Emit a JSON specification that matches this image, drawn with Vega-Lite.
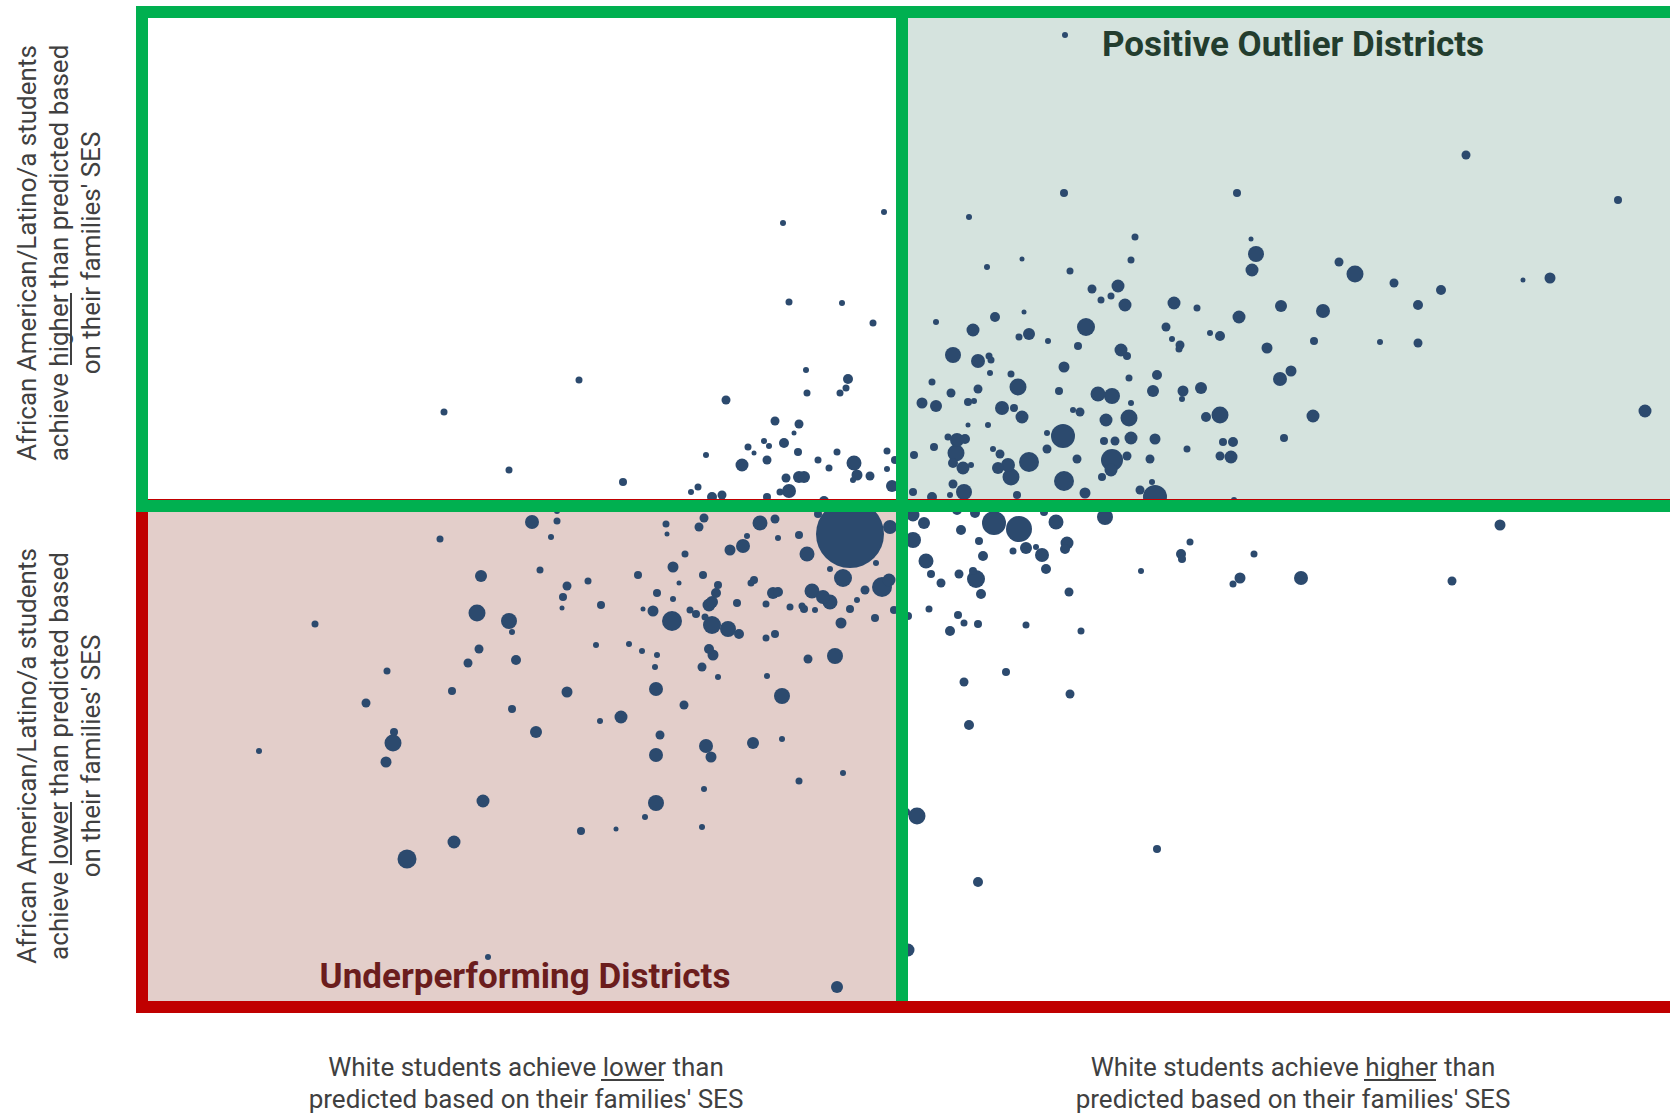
{
  "$schema": "https://vega.github.io/schema/vega-lite/v6.json",
  "width": 1520,
  "height": 995,
  "autosize": "none",
  "padding": {"left": 142, "top": 12, "right": 8, "bottom": 111},
  "background": "white",
  "config": {"view": {"stroke": null}},
  "datasets": {
    "pts": [
      {"w":-458,"b":94,"n":490},{"w":-323,"b":126,"n":490},{"w":-393,"b":36,"n":490},{"w":-279,"b":24,"n":640},
      {"w":-370,"b":-16,"n":1960},{"w":-345,"b":-15,"n":490},{"w":-345,"b":-5,"n":360},{"w":-351,"b":-31,"n":360},
      {"w":-462,"b":-33,"n":490},{"w":-421,"b":-70,"n":1440},{"w":-362,"b":-64,"n":490},{"w":-335,"b":-80,"n":810},
      {"w":-339,"b":-91,"n":640},{"w":-340,"b":-102,"n":250},{"w":-314,"b":-75,"n":490},{"w":-301,"b":-99,"n":640},
      {"w":-264,"b":-69,"n":640},{"w":-259,"b":-103,"n":250},{"w":-425,"b":-107,"n":2890},{"w":-393,"b":-115,"n":2560},
      {"w":-390,"b":-126,"n":360},{"w":-587,"b":-118,"n":490},{"w":-423,"b":-143,"n":810},{"w":-434,"b":-157,"n":810},
      {"w":-386,"b":-154,"n":1000},{"w":-306,"b":-139,"n":360},{"w":-273,"b":-138,"n":360},{"w":-260,"b":-145,"n":360},
      {"w":-515,"b":-165,"n":490},{"w":-450,"b":-185,"n":640},{"w":-335,"b":-186,"n":1210},{"w":-536,"b":-197,"n":810},
      {"w":-390,"b":-203,"n":640},{"w":-302,"b":-215,"n":360},{"w":-281,"b":-211,"n":1690},{"w":-366,"b":-226,"n":1440},
      {"w":-508,"b":-226,"n":640},{"w":-509,"b":-237,"n":2890},{"w":-516,"b":-256,"n":1210},{"w":-643,"b":-245,"n":360},
      {"w":-419,"b":-295,"n":1690},{"w":-257,"b":-311,"n":360},{"w":-321,"b":-325,"n":640},{"w":-286,"b":-323,"n":250},
      {"w":-448,"b":-336,"n":1690},{"w":-495,"b":-353,"n":3610},{"w":-414,"b":-451,"n":360},
      {"w":163,"b":471,"n":360},{"w":-119,"b":283,"n":360},{"w":-18,"b":294,"n":360},{"w":162,"b":313,"n":640},
      {"w":67,"b":289,"n":360},{"w":233,"b":269,"n":490},{"w":229,"b":246,"n":490},{"w":85,"b":239,"n":360},
      {"w":120,"b":247,"n":250},{"w":168,"b":235,"n":490},{"w":190,"b":217,"n":810},{"w":216,"b":220,"n":1690},
      {"w":199,"b":206,"n":490},{"w":209,"b":210,"n":490},{"w":223,"b":201,"n":1690},{"w":-113,"b":204,"n":490},
      {"w":-60,"b":203,"n":360},{"w":-29,"b":183,"n":490},{"w":34,"b":184,"n":360},{"w":93,"b":189,"n":1000},
      {"w":122,"b":194,"n":250},{"w":71,"b":176,"n":1690},{"w":184,"b":179,"n":3240},{"w":127,"b":172,"n":1440},
      {"w":117,"b":169,"n":490},{"w":146,"b":165,"n":360},{"w":176,"b":160,"n":640},{"w":51,"b":151,"n":2560},
      {"w":76,"b":145,"n":1960},{"w":87,"b":150,"n":490},{"w":89,"b":146,"n":490},{"w":219,"b":156,"n":1690},
      {"w":225,"b":150,"n":640},{"w":162,"b":139,"n":1210},{"w":88,"b":133,"n":360},{"w":109,"b":132,"n":490},
      {"w":-96,"b":136,"n":360},{"w":-54,"b":127,"n":1000},{"w":227,"b":128,"n":490},{"w":30,"b":124,"n":490},
      {"w":564,"b":351,"n":810},{"w":716,"b":306,"n":640},{"w":335,"b":313,"n":640},{"w":349,"b":267,"n":250},
      {"w":354,"b":252,"n":2560},{"w":350,"b":236,"n":1690},{"w":437,"b":244,"n":810},{"w":453,"b":232,"n":2890},
      {"w":492,"b":223,"n":810},{"w":539,"b":216,"n":1000},{"w":621,"b":226,"n":250},{"w":648,"b":228,"n":1210},
      {"w":516,"b":201,"n":1000},{"w":272,"b":203,"n":1690},{"w":295,"b":198,"n":490},{"w":379,"b":200,"n":1440},
      {"w":421,"b":195,"n":1960},{"w":337,"b":189,"n":1690},{"w":264,"b":179,"n":810},{"w":308,"b":173,"n":360},
      {"w":318,"b":170,"n":1000},{"w":270,"b":167,"n":360},{"w":278,"b":161,"n":810},{"w":277,"b":157,"n":490},
      {"w":365,"b":158,"n":1210},{"w":412,"b":165,"n":640},{"w":478,"b":164,"n":360},{"w":516,"b":163,"n":810},
      {"w":255,"b":131,"n":1000},{"w":251,"b":115,"n":1440},{"w":281,"b":115,"n":1210},{"w":280,"b":107,"n":360},
      {"w":299,"b":118,"n":1440},{"w":389,"b":135,"n":1210},{"w":378,"b":127,"n":1960},{"w":318,"b":91,"n":2890},
      {"w":304,"b":89,"n":1000},{"w":411,"b":90,"n":1690},{"w":743,"b":95,"n":1690},{"w":253,"b":67,"n":1210},
      {"w":285,"b":57,"n":490},{"w":321,"b":64,"n":640},{"w":331,"b":64,"n":1000},{"w":382,"b":68,"n":640},
      {"w":318,"b":50,"n":810},{"w":329,"b":49,"n":1690},{"w":250,"b":24,"n":360},{"w":253,"b":9,"n":5760},
      {"w":332,"b":6,"n":360},
      {"w":598,"b":-19,"n":1210},{"w":288,"b":-36,"n":490},{"w":279,"b":-48,"n":1000},{"w":280,"b":-53,"n":640},
      {"w":352,"b":-48,"n":490},{"w":338,"b":-72,"n":1210},{"w":331,"b":-78,"n":490},{"w":399,"b":-72,"n":1960},
      {"w":550,"b":-75,"n":810},{"w":255,"b":-343,"n":640},
      {"w":-218,"b":-199,"n":810},{"w":-120,"b":-190,"n":2560},{"w":-242,"b":-229,"n":810},{"w":-196,"b":-240,"n":1960},
      {"w":-191,"b":-251,"n":1210},{"w":-246,"b":-249,"n":1960},{"w":-149,"b":-237,"n":1440},{"w":-120,"b":-233,"n":360},
      {"w":-103,"b":-275,"n":490},{"w":-59,"b":-267,"n":360},{"w":-198,"b":-283,"n":360},{"w":-246,"b":-297,"n":2560},
      {"w":-200,"b":-321,"n":360},{"w":-65,"b":-481,"n":1440},{"w":168,"b":-188,"n":810},{"w":67,"b":-219,"n":1000},
      {"w":15,"b":-310,"n":2890},{"w":4,"b":-306,"n":640},{"w":76,"b":-376,"n":1000},{"w":6,"b":-444,"n":1690},
      {"w":-176,"b":106,"n":810},{"w":-95,"b":113,"n":490},{"w":-62,"b":113,"n":490},{"w":-56,"b":118,"n":490},
      {"w":-127,"b":85,"n":810},{"w":-103,"b":82,"n":810},{"w":-108,"b":73,"n":250},{"w":-118,"b":63,"n":1000},
      {"w":-138,"b":65,"n":360},{"w":-133,"b":60,"n":360},{"w":-154,"b":59,"n":490},{"w":-148,"b":53,"n":250},
      {"w":-196,"b":51,"n":360},{"w":-160,"b":41,"n":1690},{"w":-135,"b":46,"n":810},{"w":-104,"b":54,"n":640},
      {"w":-84,"b":46,"n":490},{"w":-65,"b":54,"n":490},{"w":-48,"b":43,"n":2250},{"w":-73,"b":38,"n":490},
      {"w":-45,"b":31,"n":1210},{"w":-49,"b":26,"n":360},{"w":-32,"b":30,"n":810},{"w":-15,"b":55,"n":490},
      {"w":-15,"b":37,"n":360},{"w":-10,"b":20,"n":1440},{"w":-7,"b":46,"n":640},{"w":-116,"b":28,"n":810},
      {"w":-103,"b":29,"n":1440},{"w":-98,"b":29,"n":1440},{"w":-113,"b":15,"n":1960},{"w":-211,"b":14,"n":360},
      {"w":-204,"b":19,"n":490},{"w":-190,"b":9,"n":1000},{"w":-180,"b":11,"n":810},{"w":-135,"b":9,"n":640},
      {"w":-122,"b":14,"n":490},{"w":-78,"b":5,"n":1000},
      {"w":49,"b":113,"n":810},{"w":76,"b":117,"n":810},{"w":116,"b":119,"n":2890},{"w":157,"b":115,"n":640},
      {"w":196,"b":112,"n":2250},{"w":210,"b":110,"n":2560},{"w":229,"b":103,"n":360},{"w":20,"b":103,"n":1210},
      {"w":34,"b":100,"n":1440},{"w":66,"b":104,"n":640},{"w":72,"b":105,"n":360},{"w":100,"b":98,"n":1960},
      {"w":112,"b":98,"n":640},{"w":120,"b":89,"n":1690},{"w":171,"b":96,"n":360},{"w":178,"b":94,"n":810},
      {"w":227,"b":88,"n":2890},{"w":204,"b":86,"n":1690},{"w":229,"b":68,"n":1690},{"w":213,"b":65,"n":810},
      {"w":202,"b":65,"n":640},{"w":161,"b":70,"n":5760},{"w":145,"b":73,"n":360},{"w":145,"b":57,"n":810},
      {"w":86,"b":81,"n":360},{"w":66,"b":81,"n":250},{"w":46,"b":69,"n":490},{"w":55,"b":66,"n":1960},
      {"w":63,"b":67,"n":1000},{"w":32,"b":59,"n":640},{"w":54,"b":53,"n":2890},{"w":51,"b":43,"n":1000},
      {"w":61,"b":38,"n":1690},{"w":69,"b":41,"n":360},{"w":12,"b":51,"n":640},{"w":91,"b":57,"n":360},
      {"w":98,"b":52,"n":810},{"w":96,"b":38,"n":1440},{"w":106,"b":41,"n":1960},{"w":109,"b":29,"n":2890},
      {"w":127,"b":44,"n":4000},{"w":162,"b":25,"n":4000},{"w":175,"b":47,"n":810},{"w":210,"b":46,"n":4840},
      {"w":209,"b":36,"n":1690},{"w":200,"b":29,"n":640},{"w":225,"b":50,"n":810},{"w":248,"b":47,"n":810},
      {"w":51,"b":22,"n":810},{"w":62,"b":14,"n":2560},{"w":48,"b":11,"n":360},{"w":183,"b":13,"n":1210},
      {"w":115,"b":11,"n":640},{"w":238,"b":16,"n":810},{"w":30,"b":9,"n":1000},{"w":11,"b":14,"n":640},
      {"w":-52,"b":-28,"n":46240},{"w":-12,"b":-21,"n":1960},{"w":-84,"b":-8,"n":640},{"w":-142,"b":-17,"n":2250},
      {"w":-127,"b":-13,"n":810},{"w":-103,"b":-29,"n":640},{"w":-124,"b":-32,"n":360},{"w":-155,"b":-30,"n":360},
      {"w":-159,"b":-40,"n":1960},{"w":-172,"b":-44,"n":1210},{"w":-95,"b":-48,"n":2250},{"w":-198,"b":-12,"n":810},
      {"w":-203,"b":-21,"n":810},{"w":-236,"b":-18,"n":490},{"w":-235,"b":-28,"n":250},{"w":-217,"b":-48,"n":490},
      {"w":-229,"b":-61,"n":1210},{"w":-199,"b":-69,"n":640},{"w":-223,"b":-77,"n":250},{"w":-184,"b":-79,"n":640},
      {"w":-245,"b":-87,"n":640},{"w":-229,"b":-93,"n":360},{"w":-186,"b":-87,"n":1000},{"w":-190,"b":-96,"n":1440},
      {"w":-193,"b":-99,"n":1690},{"w":-148,"b":-74,"n":640},{"w":-151,"b":-77,"n":490},{"w":-129,"b":-87,"n":1440},
      {"w":-124,"b":-86,"n":1000},{"w":-90,"b":-85,"n":2250},{"w":-79,"b":-91,"n":1960},{"w":-72,"b":-96,"n":2250},
      {"w":-59,"b":-72,"n":3240},{"w":-72,"b":-63,"n":360},{"w":-26,"b":-57,"n":360},{"w":-20,"b":-81,"n":4000},
      {"w":-13,"b":-74,"n":1690},{"w":-37,"b":-84,"n":810},{"w":-45,"b":-94,"n":360},{"w":-52,"b":-103,"n":640},
      {"w":-27,"b":-112,"n":640},{"w":-61,"b":-117,"n":1210},{"w":-165,"b":-97,"n":640},{"w":-136,"b":-98,"n":490},
      {"w":-112,"b":-101,"n":490},{"w":-100,"b":-100,"n":490},{"w":-98,"b":-103,"n":640},{"w":-87,"b":-104,"n":360},
      {"w":-249,"b":-105,"n":1210},{"w":-230,"b":-115,"n":4000},{"w":-212,"b":-104,"n":490},{"w":-206,"b":-108,"n":640},
      {"w":-190,"b":-119,"n":3240},{"w":-174,"b":-123,"n":2560},{"w":-163,"b":-128,"n":1000},{"w":-197,"b":-111,"n":490},
      {"w":-136,"b":-132,"n":490},{"w":-127,"b":-128,"n":640},{"w":-193,"b":-143,"n":1000},{"w":-189,"b":-149,"n":1210},
      {"w":-245,"b":-149,"n":360},{"w":-247,"b":-161,"n":360},{"w":-200,"b":-161,"n":810},{"w":-184,"b":-171,"n":360},
      {"w":-135,"b":-170,"n":360},{"w":-94,"b":-153,"n":810},{"w":-67,"b":-150,"n":2560},{"w":-246,"b":-183,"n":1960},
      {"w":-8,"b":-104,"n":640},
      {"w":11,"b":-9,"n":1690},{"w":22,"b":-17,"n":1440},{"w":11,"b":-34,"n":2560},{"w":55,"b":-4,"n":1000},
      {"w":73,"b":-7,"n":1000},{"w":92,"b":-17,"n":5760},{"w":117,"b":-23,"n":6760},{"w":154,"b":-16,"n":2250},
      {"w":203,"b":-11,"n":2560},{"w":142,"b":-6,"n":640},{"w":59,"b":-24,"n":1000},{"w":77,"b":-35,"n":640},
      {"w":124,"b":-42,"n":1440},{"w":111,"b":-45,"n":490},{"w":134,"b":-41,"n":360},{"w":140,"b":-49,"n":1960},
      {"w":165,"b":-37,"n":1690},{"w":163,"b":-43,"n":1000},{"w":81,"b":-50,"n":1000},{"w":24,"b":-55,"n":2250},
      {"w":29,"b":-68,"n":640},{"w":39,"b":-77,"n":810},{"w":57,"b":-68,"n":810},{"w":71,"b":-65,"n":640},
      {"w":74,"b":-73,"n":3240},{"w":79,"b":-88,"n":1000},{"w":144,"b":-63,"n":1000},{"w":167,"b":-86,"n":810},
      {"w":239,"b":-65,"n":360},{"w":27,"b":-103,"n":490},{"w":56,"b":-109,"n":640},{"w":62,"b":-117,"n":490},
      {"w":76,"b":-118,"n":640},{"w":48,"b":-125,"n":1000},{"w":124,"b":-119,"n":490},{"w":179,"b":-125,"n":490},
      {"w":104,"b":-166,"n":640},{"w":62,"b":-176,"n":810},{"w":6,"b":-110,"n":640}
    ]
  },
  "layer": [
    {
      "data": {"values": [
        {"w": 0, "w2": 800, "b": 0, "b2": 494, "zone": "Positive outlier"},
        {"w": -760, "w2": 0, "b": -501, "b2": 0, "zone": "Underperforming"}
      ]},
      "mark": {"type": "rect", "opacity": 1},
      "encoding": {
        "x": {"field": "w", "type": "quantitative", "scale": {"domain": [-760, 760], "nice": false, "zero": false}, "axis": null},
        "x2": {"field": "w2"},
        "y": {"field": "b", "type": "quantitative", "scale": {"domain": [-501, 494], "nice": false, "zero": false}, "axis": null},
        "y2": {"field": "b2"},
        "color": {"field": "zone", "type": "nominal", "scale": {"domain": ["Positive outlier", "Underperforming"], "range": ["#D5E3DE", "#E3CECA"]}, "legend": null}
      }
    },
    {
      "data": {"name": "pts"},
      "mark": {"type": "circle", "color": "#2C4A6E", "opacity": 1},
      "encoding": {
        "x": {"field": "w", "type": "quantitative", "scale": {"domain": [-760, 760], "nice": false, "zero": false}, "axis": null},
        "y": {"field": "b", "type": "quantitative", "scale": {"domain": [-501, 494], "nice": false, "zero": false}, "axis": null},
        "size": {"field": "n", "type": "quantitative", "scale": {"type": "linear", "domain": [0, 46240], "range": [0, 4624], "zero": true}, "legend": null},
        "order": {"field": "n", "sort": "descending"}
      }
    },
    {
      "data": {"values": [{"w": -760, "w2": 800, "b": -501, "b2": 1}]},
      "mark": {"type": "rect", "fill": "#ffffff", "fillOpacity": 0, "stroke": "#C00000", "strokeWidth": 12},
      "encoding": {
        "x": {"field": "w", "type": "quantitative", "scale": {"domain": [-760, 760], "nice": false, "zero": false}, "axis": null},
        "x2": {"field": "w2"},
        "y": {"field": "b", "type": "quantitative", "scale": {"domain": [-501, 494], "nice": false, "zero": false}, "axis": null},
        "y2": {"field": "b2"}
      }
    },
    {
      "data": {"values": [
        {"w": -760, "w2": 0, "b": 0, "b2": 494},
        {"w": 0, "w2": 800, "b": 0, "b2": 494}
      ]},
      "mark": {"type": "rect", "fill": "#ffffff", "fillOpacity": 0, "stroke": "#00B050", "strokeWidth": 12},
      "encoding": {
        "x": {"field": "w", "type": "quantitative", "scale": {"domain": [-760, 760], "nice": false, "zero": false}, "axis": null},
        "x2": {"field": "w2"},
        "y": {"field": "b", "type": "quantitative", "scale": {"domain": [-501, 494], "nice": false, "zero": false}, "axis": null},
        "y2": {"field": "b2"}
      }
    },
    {
      "data": {"values": [{"w": 0, "b": 0, "b2": -495}]},
      "mark": {"type": "rule", "stroke": "#00B050", "strokeWidth": 12, "strokeCap": "butt"},
      "encoding": {
        "x": {"field": "w", "type": "quantitative", "scale": {"domain": [-760, 760], "nice": false, "zero": false}, "axis": null},
        "y": {"field": "b", "type": "quantitative", "scale": {"domain": [-501, 494], "nice": false, "zero": false}, "axis": null},
        "y2": {"field": "b2"}
      }
    },
    {
      "data": {"values": [
        {"w": -874, "b": 253, "t": "African American/Latino/a students\nachieve higher than predicted based\non their families' SES"},
        {"w": -874, "b": -250, "t": "African American/Latino/a students\nachieve lower than predicted based\non their families' SES"}
      ]},
      "mark": {"type": "text", "angle": 270, "align": "center", "baseline": "middle", "lineBreak": "\n", "lineHeight": 32, "fontSize": 26, "font": "Roboto", "color": "#404040"},
      "encoding": {
        "x": {"field": "w", "type": "quantitative", "scale": {"domain": [-760, 760], "nice": false, "zero": false}, "axis": null},
        "y": {"field": "b", "type": "quantitative", "scale": {"domain": [-501, 494], "nice": false, "zero": false}, "axis": null},
        "text": {"field": "t"}
      }
    },
    {
      "data": {"values": [
        {"w": -376, "b": -562, "t": "White students achieve lower than\npredicted based on their families' SES"},
        {"w": 391, "b": -562, "t": "White students achieve higher than\npredicted based on their families' SES"}
      ]},
      "mark": {"type": "text", "align": "center", "baseline": "middle", "lineBreak": "\n", "lineHeight": 32, "fontSize": 26, "font": "Roboto", "color": "#404040"},
      "encoding": {
        "x": {"field": "w", "type": "quantitative", "scale": {"domain": [-760, 760], "nice": false, "zero": false}, "axis": null},
        "y": {"field": "b", "type": "quantitative", "scale": {"domain": [-501, 494], "nice": false, "zero": false}, "axis": null},
        "text": {"field": "t"}
      }
    },
    {
      "data": {"values": [
        {"w": -831, "w2": -831, "b": 141, "b2": 213},
        {"w": -831, "w2": -831, "b": -296, "b2": -359},
        {"w": -301, "w2": -238, "b": -574, "b2": -574},
        {"w": 462, "w2": 534, "b": -574, "b2": -574}
      ]},
      "mark": {"type": "rule", "stroke": "#404040", "strokeWidth": 2},
      "encoding": {
        "x": {"field": "w", "type": "quantitative", "scale": {"domain": [-760, 760], "nice": false, "zero": false}, "axis": null},
        "x2": {"field": "w2"},
        "y": {"field": "b", "type": "quantitative", "scale": {"domain": [-501, 494], "nice": false, "zero": false}, "axis": null},
        "y2": {"field": "b2"}
      }
    },
    {
      "data": {"values": [{"w": 391, "b": 461, "t": "Positive Outlier Districts"}]},
      "mark": {"type": "text", "align": "center", "baseline": "middle", "fontSize": 35, "fontWeight": "bold", "font": "Roboto", "color": "#233D2E"},
      "encoding": {
        "x": {"field": "w", "type": "quantitative", "scale": {"domain": [-760, 760], "nice": false, "zero": false}, "axis": null},
        "y": {"field": "b", "type": "quantitative", "scale": {"domain": [-501, 494], "nice": false, "zero": false}, "axis": null},
        "text": {"field": "t"}
      }
    },
    {
      "data": {"values": [{"w": -377, "b": -471, "t": "Underperforming Districts"}]},
      "mark": {"type": "text", "align": "center", "baseline": "middle", "fontSize": 35, "fontWeight": "bold", "font": "Roboto", "color": "#6B1D1D"},
      "encoding": {
        "x": {"field": "w", "type": "quantitative", "scale": {"domain": [-760, 760], "nice": false, "zero": false}, "axis": null},
        "y": {"field": "b", "type": "quantitative", "scale": {"domain": [-501, 494], "nice": false, "zero": false}, "axis": null},
        "text": {"field": "t"}
      }
    }
  ]
}
